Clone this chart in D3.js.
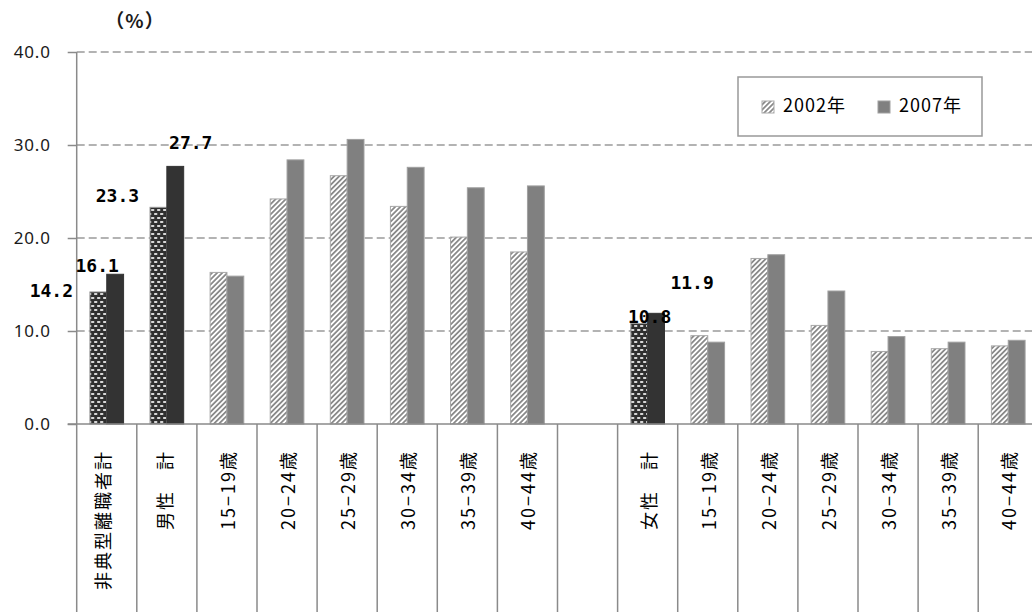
<!DOCTYPE html>
<html><head><meta charset="utf-8">
<script src="https://cdn.jsdelivr.net/npm/d3@7"></script>
<style>body{margin:0;background:#fff;overflow:hidden}</style>
</head><body><svg id="c" width="1032" height="612"></svg>
<script>
// ---------- data ----------
const categories = ["非典型離職者計","男性　計","15−19歳","20−24歳","25−29歳","30−34歳","35−39歳","40−44歳","","女性　計","15−19歳","20−24歳","25−29歳","30−34歳","35−39歳","40−44歳"];
const totalSlots = [0,1,9];
const values2002 = [14.2,23.3,16.3,24.2,26.7,23.4,20.1,18.5,null,10.8,9.5,17.8,10.6,7.8,8.1,8.4];
const values2007 = [16.1,27.7,15.9,28.4,30.6,27.6,25.4,25.6,null,11.9,8.8,18.2,14.3,9.4,8.8,9.0];
const seriesNames = ["2002年","2007年"];
const yTicks = [0,10,20,30,40];
const unitLabel = "（%）";

// ---------- layout config ----------
const W = 1032, H = 612;
const plotLeft = 76.7, plotRight = 1038.3, yTop = 52, yBottom = 424;
const labelOffsets = {"0-0":[-47,5],"0-1":[-18,-2.6],"1-0":[-41,-5.3],"1-1":[15.5,-17.4],"9-0":[10.4,-0.6],"9-1":[36,-24]};
const catShift = {0:-5, 1:-3};

const svg = d3.select("#c");
const defs = svg.append("defs");
const hp = defs.append("pattern").attr("id","hatch").attr("patternUnits","userSpaceOnUse")
  .attr("width",3.6).attr("height",3.6).attr("patternTransform","rotate(45)");
hp.append("rect").attr("width",3.6).attr("height",3.6).attr("fill","#fff");
hp.append("line").attr("x1",0.9).attr("y1",0).attr("x2",0.9).attr("y2",3.6).attr("stroke","#8a8a8a").attr("stroke-width",1.8);
const bp = defs.append("pattern").attr("id","brick").attr("patternUnits","userSpaceOnUse")
  .attr("width",6).attr("height",8);
bp.append("rect").attr("width",6).attr("height",8).attr("fill","#2f2f2f");
[[1,1],[4,5],[-2,5]].forEach(([x,y])=>bp.append("rect").attr("x",x).attr("y",y).attr("width",3.4).attr("height",2).attr("rx",0.8).attr("fill","#d8d8d8"));

const x = d3.scaleBand().domain(d3.range(categories.length)).range([plotLeft, plotRight]).padding(0);
const y = d3.scaleLinear().domain([0,40]).range([yBottom, yTop]);
const inner = d3.scaleBand().domain([0,1]).range([0, x.bandwidth()]).paddingInner(0).paddingOuter(0.785);

// gridlines
svg.append("g").selectAll("line").data(yTicks.filter(t=>t>0)).join("line")
  .attr("x1",plotLeft).attr("x2",W).attr("y1",d=>y(d)).attr("y2",d=>y(d))
  .attr("stroke","#9a9a9a").attr("stroke-width",1.5).attr("stroke-dasharray","8,4");

// y axis
const yAxis = svg.append("g").attr("transform",`translate(${plotLeft},0)`)
  .call(d3.axisLeft(y).tickValues(yTicks).tickFormat(d3.format(".1f")).tickSize(9).tickPadding(17));
yAxis.select(".domain").remove();
yAxis.selectAll(".tick line").attr("stroke","#8a8a8a").attr("stroke-width",1.5);
yAxis.selectAll(".tick text").attr("font-family","'Noto Sans', 'Noto Sans CJK JP', sans-serif")
  .attr("font-size",17).attr("letter-spacing",0.8).attr("fill","#1a1a1a");
svg.append("line").attr("x1",plotLeft).attr("x2",plotLeft).attr("y1",yTop).attr("y2",H)
  .attr("stroke","#8a8a8a").attr("stroke-width",1.5);

svg.append("text").attr("x",135).attr("y",28).attr("text-anchor","middle")
  .attr("font-family","'Noto Sans CJK JP', sans-serif").attr("font-size",19).attr("font-weight","bold")
  .attr("letter-spacing",1).attr("fill","#1a1a1a").text(unitLabel);

// bars
const barData = [];
categories.forEach((c,i)=>{
  [values2002[i], values2007[i]].forEach((v,s)=>{ if(v!=null) barData.push({i,s,v,total: totalSlots.includes(i)}); });
});
function fillOf(d){ return d.total ? (d.s===0?"url(#brick)":"#333333") : (d.s===0?"url(#hatch)":"#808080"); }
function strokeOf(d){ return d.total ? (d.s===0?"#9a9a9a":"#333333") : (d.s===0?"#a8a8a8":"#a0a0a0"); }
svg.append("g").selectAll("rect").data(barData).join("rect")
  .attr("x",d=>x(d.i)+inner(d.s)).attr("width",inner.bandwidth())
  .attr("y",d=>y(d.v)).attr("height",d=>y(0)-y(d.v))
  .attr("fill",fillOf).attr("stroke",strokeOf).attr("stroke-width",1);

// x axis line + category separators
svg.append("line").attr("x1",plotLeft-9).attr("x2",W).attr("y1",yBottom).attr("y2",yBottom)
  .attr("stroke","#8a8a8a").attr("stroke-width",1.5);
svg.append("g").selectAll("line").data(d3.range(1,categories.length+1)).join("line")
  .attr("x1",d=>plotLeft + d*x.step()).attr("x2",d=>plotLeft + d*x.step())
  .attr("y1",yBottom).attr("y2",H).attr("stroke","#8a8a8a").attr("stroke-width",1.5);

// category labels, rotated, reading bottom to top, top-aligned
svg.append("g").selectAll("text").data(categories.map((t,i)=>({t,i})).filter(d=>d.t)).join("text")
  .attr("transform",d=>`translate(${x(d.i)+x.bandwidth()/2+(catShift[d.i]||0)},450) rotate(-90)`)
  .attr("text-anchor","end").attr("dominant-baseline","central")
  .attr("font-family","'Noto Sans CJK JP', sans-serif").attr("font-size",18).attr("letter-spacing",2)
  .attr("fill","#000").text(d=>d.t);

// data labels
svg.append("g").selectAll("text").data(barData.filter(d=>d.total)).join("text")
  .attr("x",d=>x(d.i)+inner(d.s)+inner.bandwidth()/2 + labelOffsets[d.i+"-"+d.s][0])
  .attr("y",d=>y(d.v) + labelOffsets[d.i+"-"+d.s][1])
  .attr("text-anchor","middle").attr("font-family","'DejaVu Sans Mono', monospace").attr("font-weight","bold")
  .attr("font-size",18).attr("fill","#000").text(d=>d3.format(".1f")(d.v));

// legend
const lg = svg.append("g");
lg.append("rect").attr("x",738).attr("y",77).attr("width",244).attr("height",59)
  .attr("fill","#fff").attr("stroke","#999").attr("stroke-width",1.5);
const legX = [762, 878];
seriesNames.forEach((n,s)=>{
  lg.append("rect").attr("x",legX[s]).attr("y",101).attr("width",12).attr("height",12)
    .attr("fill", s===0?"url(#hatch)":"#808080").attr("stroke", s===0?"#aaa":"#a0a0a0");
  lg.append("text").attr("x",legX[s]+21).attr("y",112).attr("font-family","'Noto Sans CJK JP', sans-serif")
    .attr("font-size",18).attr("letter-spacing",1).attr("fill","#000").text(n);
});
</script></body></html>
